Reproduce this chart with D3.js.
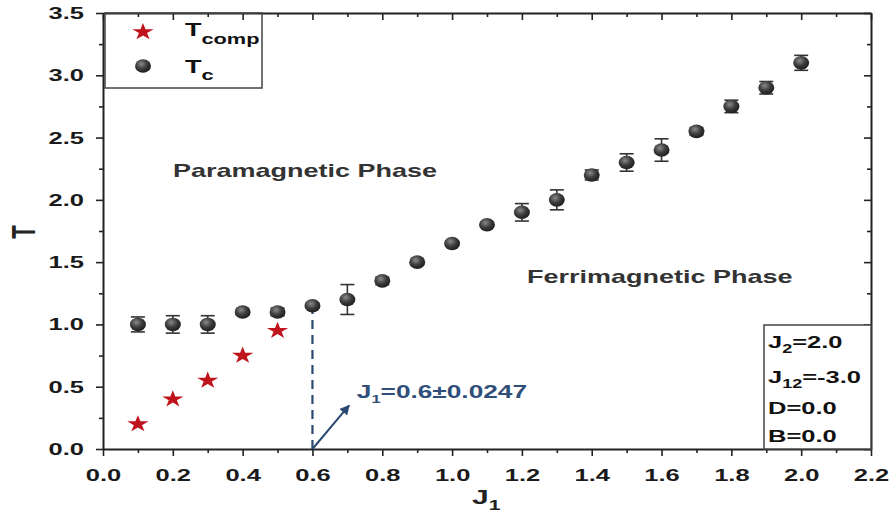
<!DOCTYPE html>
<html>
<head>
<meta charset="utf-8">
<script src="https://cdn.jsdelivr.net/npm/d3@7"></script>
<style>
  body { margin: 0; background: #fff; }
  text { font-family: Arial, "Liberation Sans", sans-serif; font-weight: bold; }
</style>
</head>
<body>
<div id="display"></div>
<script>
// J1 values and transition temperatures
const j1Tc = [0.1, 0.2, 0.3, 0.4, 0.5, 0.6, 0.7, 0.8, 0.9, 1.0, 1.1, 1.2, 1.3, 1.4, 1.5, 1.6, 1.7, 1.8, 1.9, 2.0];
const tc = [1.0, 1.0, 1.0, 1.1, 1.1, 1.15, 1.2, 1.35, 1.5, 1.65, 1.8, 1.9, 2.0, 2.2, 2.3, 2.4, 2.55, 2.75, 2.9, 3.1];
const tcErr = [0.06, 0.07, 0.07, 0.02, 0.03, 0.02, 0.12, 0.03, 0.02, 0.02, 0.02, 0.07, 0.08, 0.04, 0.07, 0.09, 0.03, 0.05, 0.05, 0.06];
const j1Comp = [0.1, 0.2, 0.3, 0.4, 0.5];
const tcomp = [0.2, 0.4, 0.55, 0.75, 0.95];
const xTicks = [0.0, 0.2, 0.4, 0.6, 0.8, 1.0, 1.2, 1.4, 1.6, 1.8, 2.0, 2.2];
const yTicks = [0.0, 0.5, 1.0, 1.5, 2.0, 2.5, 3.0, 3.5];
const criticalJ1 = 0.6;
const criticalT = 1.15;
const params = [["J", "2", "=2.0"], ["J", "12", "=-3.0"], ["D", "", "=0.0"], ["B", "", "=0.0"]];

// text in this figure is drawn wide, so every label gets a horizontal stretch
const SX = 1.5;

let margin = {top: 13, right: 21, bottom: 71, left: 103};
let width = 892 - margin.left - margin.right;
let height = 520 - margin.top - margin.bottom;

let root = d3.select('#display').append('svg')
    .attr('width', 892).attr('height', 520);

let defs = root.append('defs');
let grad = defs.append('radialGradient').attr('id', 'ball')
    .attr('cx', '40%').attr('cy', '35%').attr('r', '65%');
grad.append('stop').attr('offset', '0%').attr('stop-color', '#8a8a8a');
grad.append('stop').attr('offset', '55%').attr('stop-color', '#3c3c3c');
grad.append('stop').attr('offset', '100%').attr('stop-color', '#1e1e1e');
defs.append('marker').attr('id', 'arrow')
    .attr('viewBox', '0 0 10 10').attr('refX', 9).attr('refY', 5)
    .attr('markerWidth', 5).attr('markerHeight', 5).attr('orient', 'auto')
  .append('path').attr('d', 'M0,0 L10,5 L0,10 z').attr('fill', '#2b4a72');

let svg = root.append('g')
    .attr('transform', 'translate(' + margin.left + ',' + margin.top + ')');

let x = d3.scaleLinear().domain([0, 2.2]).range([0, width]);
let y = d3.scaleLinear().domain([0, 3.5]).range([height, 0]);

let minorX = d3.range(1, 22, 2).map(i => i / 10);
let minorY = d3.range(0, 7).map(i => i * 0.5 + 0.25);

function wideText(parent, px, py, size) {
    return parent.append('g')
        .attr('transform', 'translate(' + px + ',' + py + ') scale(' + SX + ',1)')
      .append('text').style('font-size', size + 'px');
}

// axes: bottom/left with labels, top/right mirrored with inward ticks
function styleAxis(g) {
    g.select('.domain').attr('stroke', '#222').attr('stroke-width', 2);
    g.selectAll('.tick line').attr('stroke', '#222').attr('stroke-width', 1.6);
    g.selectAll('.tick text').attr('fill', '#1a1a1a').style('font-size', '17px');
}

svg.append('g').attr('transform', 'translate(0,' + height + ')')
    .call(d3.axisBottom(x).tickValues(xTicks).tickFormat(d3.format('.1f')).tickSizeInner(7).tickSizeOuter(0).tickPadding(13))
    .call(styleAxis)
    .selectAll('.tick text').attr('transform', 'scale(' + SX + ',1)');
svg.append('g').attr('transform', 'translate(0,' + height + ')')
    .call(d3.axisBottom(x).tickValues(minorX).tickFormat('').tickSize(4))
    .call(styleAxis).select('.domain').remove();

svg.append('g')
    .call(d3.axisLeft(y).tickValues(yTicks).tickFormat(d3.format('.1f')).tickSizeInner(7).tickSizeOuter(0))
    .call(styleAxis)
    .selectAll('.tick text').attr('x', -19 / SX).attr('transform', 'scale(' + SX + ',1)');
svg.append('g')
    .call(d3.axisLeft(y).tickValues(minorY).tickFormat('').tickSize(4))
    .call(styleAxis).select('.domain').remove();

svg.append('g')
    .call(d3.axisTop(x).tickValues(xTicks).tickFormat('').tickSizeInner(-7).tickSizeOuter(0))
    .call(styleAxis);
svg.append('g')
    .call(d3.axisTop(x).tickValues(minorX).tickFormat('').tickSize(-4))
    .call(styleAxis).select('.domain').remove();

svg.append('g').attr('transform', 'translate(' + width + ',0)')
    .call(d3.axisRight(y).tickValues(yTicks).tickFormat('').tickSizeInner(-7).tickSizeOuter(0))
    .call(styleAxis);
svg.append('g').attr('transform', 'translate(' + width + ',0)')
    .call(d3.axisRight(y).tickValues(minorY).tickFormat('').tickSize(-4))
    .call(styleAxis).select('.domain').remove();

// axis titles
svg.append('g')
    .attr('transform', 'translate(-68,' + (y(1.75) + 1) + ') scale(' + SX + ',1) rotate(-90)')
  .append('text').attr('text-anchor', 'middle').attr('fill', '#222')
    .style('font-size', '22px').text('T');
let xt = wideText(svg, x(1.0) + 20, height + 55, 20).attr('fill', '#222');
xt.append('tspan').text('J');
xt.append('tspan').attr('dy', 6).style('font-size', '14px').text('1');

// critical point: dashed drop line and arrow
svg.append('line')
    .attr('x1', x(criticalJ1)).attr('x2', x(criticalJ1))
    .attr('y1', y(0)).attr('y2', y(criticalT))
    .attr('stroke', '#2b4a72').attr('stroke-width', 2.2).attr('stroke-dasharray', '9,6');
svg.append('line')
    .attr('x1', x(criticalJ1)).attr('y1', y(0))
    .attr('x2', x(0.705)).attr('y2', y(0.35))
    .attr('stroke', '#2b4a72').attr('stroke-width', 2).attr('marker-end', 'url(#arrow)');
let lab = wideText(svg, x(0.727), y(0.41), 17.5).attr('fill', '#2f4f7a');
lab.append('tspan').text('J');
lab.append('tspan').attr('dy', 5).style('font-size', '11px').text('1');
lab.append('tspan').attr('dy', -5).text('=0.6±0.0247');

// phase labels
wideText(svg, 70, 164, 18).attr('fill', '#333').text('Paramagnetic Phase');
wideText(svg, 424, 270, 18).attr('fill', '#333').text('Ferrimagnetic Phase');

// Tc error bars and markers
let tcData = j1Tc.map((v, i) => ({j: v, t: tc[i], e: tcErr[i]}));
let eb = svg.append('g').attr('stroke', '#333').attr('stroke-width', 1.6);
eb.selectAll('.bar').data(tcData).enter().append('line')
    .attr('x1', d => x(d.j)).attr('x2', d => x(d.j))
    .attr('y1', d => y(d.t - d.e)).attr('y2', d => y(d.t + d.e));
eb.selectAll('.capTop').data(tcData).enter().append('line')
    .attr('x1', d => x(d.j) - 7).attr('x2', d => x(d.j) + 7)
    .attr('y1', d => y(d.t + d.e)).attr('y2', d => y(d.t + d.e));
eb.selectAll('.capBot').data(tcData).enter().append('line')
    .attr('x1', d => x(d.j) - 7).attr('x2', d => x(d.j) + 7)
    .attr('y1', d => y(d.t - d.e)).attr('y2', d => y(d.t - d.e));
svg.append('g').selectAll('ellipse').data(tcData).enter().append('ellipse')
    .attr('cx', d => x(d.j)).attr('cy', d => y(d.t))
    .attr('rx', 8).attr('ry', 6.8)
    .attr('fill', 'url(#ball)');

// Tcomp stars
let star = d3.symbol().type(d3.symbolStar).size(90);
svg.append('g').selectAll('path').data(j1Comp).enter().append('path')
    .attr('transform', (d, i) => 'translate(' + x(d) + ',' + y(tcomp[i]) + ') scale(1.25,1)')
    .attr('d', star).attr('fill', '#c0141c');

// legend
let leg = svg.append('g').attr('transform', 'translate(2,0)');
leg.append('rect').attr('width', 157).attr('height', 75)
    .attr('fill', 'none').attr('stroke', '#444').attr('stroke-width', 1.5);
leg.append('path').attr('transform', 'translate(38,19) scale(1.25,1)').attr('d', star).attr('fill', '#c0141c');
leg.append('ellipse').attr('cx', 38).attr('cy', 53).attr('rx', 8).attr('ry', 6.8).attr('fill', 'url(#ball)');
let l1 = wideText(leg, 80, 23, 18).attr('fill', '#111');
l1.append('tspan').text('T');
l1.append('tspan').attr('dy', 8).style('font-size', '14.5px').text('comp');
let l2 = wideText(leg, 80, 60, 18).attr('fill', '#111');
l2.append('tspan').text('T');
l2.append('tspan').attr('dy', 7).style('font-size', '14.5px').text('c');

// parameter box
let pb = svg.append('g').attr('transform', 'translate(' + (width - 107) + ',' + (height - 124) + ')');
pb.append('rect').attr('width', 107).attr('height', 124)
    .attr('fill', '#fff').attr('stroke', '#444').attr('stroke-width', 1.5);
params.forEach((p, i) => {
    let t = wideText(pb, 4, [23, 58, 89, 117][i], 17).attr('fill', '#111');
    t.append('tspan').text(p[0]);
    if (p[1]) {
        t.append('tspan').attr('dy', 5).style('font-size', '12px').text(p[1]);
        t.append('tspan').attr('dy', -5).text(p[2]);
    } else {
        t.append('tspan').text(p[2]);
    }
});
</script>
</body>
</html>
